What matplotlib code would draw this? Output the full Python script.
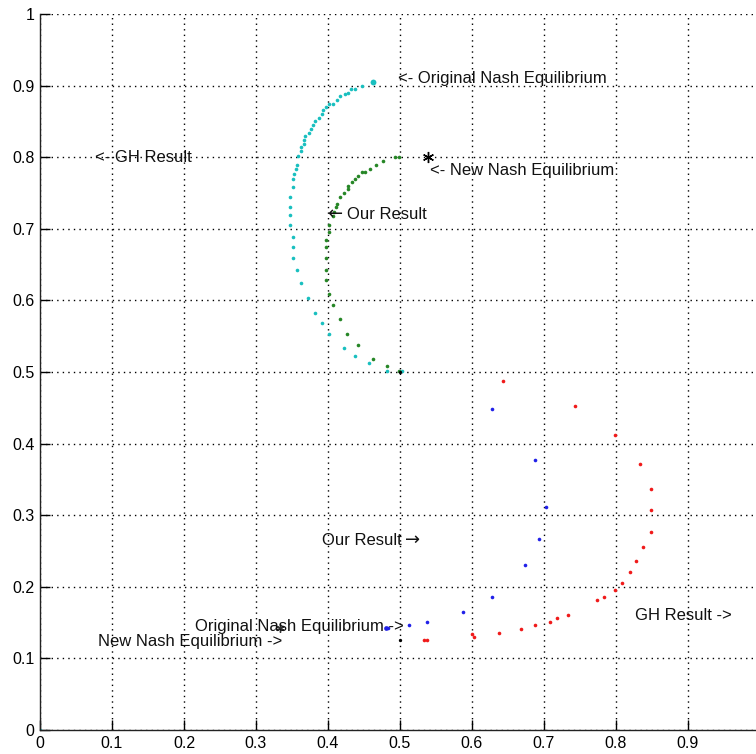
import matplotlib
matplotlib.use("Agg")
import matplotlib.pyplot as plt

plt.rcParams['font.family'] = ['Liberation Sans', 'DejaVu Sans']

# upper curves (GH result in cyan, our result in green)
cyan_x = [0.447, 0.437, 0.432, 0.428, 0.423, 0.417, 0.412, 0.407, 0.402, 0.397,
          0.393, 0.392, 0.387, 0.382, 0.379, 0.376, 0.373, 0.368, 0.367, 0.367,
          0.362, 0.362, 0.359, 0.357, 0.356, 0.353, 0.352, 0.351, 0.347, 0.347,
          0.347, 0.347, 0.352, 0.352, 0.352, 0.357, 0.362, 0.372, 0.382, 0.392,
          0.402, 0.422, 0.437, 0.457, 0.482, 0.503, 0.0]
cyan_y = [0.900, 0.895, 0.895, 0.890, 0.888, 0.885, 0.880, 0.875, 0.874, 0.870,
          0.866, 0.860, 0.855, 0.850, 0.845, 0.840, 0.834, 0.830, 0.824, 0.819,
          0.814, 0.808, 0.802, 0.789, 0.783, 0.777, 0.769, 0.759, 0.745, 0.731,
          0.719, 0.705, 0.689, 0.674, 0.659, 0.643, 0.624, 0.603, 0.583, 0.568,
          0.553, 0.533, 0.523, 0.513, 0.502, 0.502, 0.0]

green_x = [0.498, 0.493, 0.477, 0.467, 0.458, 0.452, 0.447, 0.442, 0.438, 0.433,
           0.428, 0.428, 0.422, 0.417, 0.412, 0.411, 0.408, 0.407, 0.402, 0.402,
           0.397, 0.397, 0.397, 0.397, 0.397, 0.402, 0.407, 0.417, 0.427, 0.442,
           0.462, 0.482, 0.498]
green_y = [0.800, 0.800, 0.794, 0.789, 0.784, 0.780, 0.779, 0.774, 0.769, 0.765,
           0.760, 0.755, 0.750, 0.745, 0.735, 0.730, 0.724, 0.718, 0.705, 0.695,
           0.684, 0.674, 0.659, 0.643, 0.628, 0.609, 0.593, 0.574, 0.553, 0.538,
           0.518, 0.508, 0.501]

# lower curves (GH result in red, our result in blue)
red_x = [0.643, 0.743, 0.798, 0.834, 0.848, 0.848, 0.848, 0.838, 0.828, 0.819,
         0.808, 0.798, 0.783, 0.774, 0.733, 0.718, 0.708, 0.688, 0.668, 0.638,
         0.603, 0.600, 0.537, 0.533]
red_y = [0.488, 0.453, 0.412, 0.372, 0.337, 0.307, 0.277, 0.256, 0.236, 0.221,
         0.206, 0.196, 0.186, 0.181, 0.161, 0.156, 0.151, 0.146, 0.141, 0.136,
         0.130, 0.134, 0.126, 0.126]

blue_x = [0.628, 0.688, 0.703, 0.693, 0.673, 0.628, 0.587, 0.538, 0.512, 0.484]
blue_y = [0.448, 0.377, 0.312, 0.267, 0.231, 0.186, 0.165, 0.151, 0.147, 0.142]

# equilibrium markers
orig_nash_upper = (0.462, 0.905)
new_nash_upper = (0.539, 0.800)
orig_nash_lower = (0.481, 0.142)
new_nash_lower = (0.334, 0.142)
black_dots_x = [0.500, 0.500]
black_dots_y = [0.500, 0.126]

labels = [
    ("<- Original Nash Equilibrium", 0.497, 0.910),
    ("<- GH Result", 0.076, 0.800),
    ("<- New Nash Equilibrium", 0.541, 0.781),
    ("Our Result", 0.427, 0.720),
    ("Our Result", 0.391, 0.265),
    ("Original Nash Equilibrium ->", 0.215, 0.145),
    ("New Nash Equilibrium ->", 0.081, 0.123),
    ("GH Result ->", 0.827, 0.160),
]
# long arrow glyphs next to the "Our Result" labels
arrows = [("\u2190", 0.399, 0.721), ("\u2192", 0.507, 0.266)]

ticks = [0, 0.1, 0.2, 0.3, 0.4, 0.5, 0.6, 0.7, 0.8, 0.9, 1]
ytick_labels = ['0', '0.1', '0.2', '0.3', '0.4', '0.5', '0.6', '0.7', '0.8', '0.9', '1']
xtick_labels = ['0', '0.1', '0.2', '0.3', '0.4', '0.5', '0.6', '0.7', '0.8', '0.9', '']

fig = plt.figure(figsize=(7.56, 7.54), dpi=100)
ax = fig.add_axes([40 / 756, 24 / 754, 720 / 756, 716 / 754])

ms = 2.6
ax.plot(cyan_x, cyan_y, 'o', color='#19BFBF', ms=ms, mew=0)
ax.plot(*orig_nash_upper, 'o', color='#19BFBF', ms=4.2, mew=0)
ax.plot(green_x, green_y, 'o', color='#268626', ms=ms, mew=0)
ax.plot(red_x, red_y, 'o', color='#F01A1A', ms=ms, mew=0)
ax.plot(blue_x, blue_y, 'o', color='#2020E8', ms=ms, mew=0)
ax.plot(*orig_nash_lower, 'o', color='#2020E8', ms=3.4, mew=0)
ax.plot(black_dots_x, black_dots_y, 'o', color='black', ms=2.4, mew=0)
ax.plot(*new_nash_upper, marker=(6, 2, 0), color='black', ms=8, mew=1)
ax.plot(*new_nash_lower, marker=(6, 2, 0), color='#333333', ms=6, mew=1)

for txt, x, y in labels:
    ax.text(x, y, txt, fontsize=12, va='center', ha='left', color='#111111')
for txt, x, y in arrows:
    ax.text(x, y, txt, fontsize=13, va='center', ha='left', color='#111111',
            family='DejaVu Sans')

ax.set_xlim(0, 1)
ax.set_ylim(0, 1)
ax.set_xticks(ticks)
ax.set_xticklabels(xtick_labels)
ax.set_yticks(ticks)
ax.set_yticklabels(ytick_labels)
ax.tick_params(direction='in', length=7, width=1, labelsize=11.5, pad=4)
ax.grid(True, color='black', linestyle=(0, (1, 3)), linewidth=1.0)
for side in ['top', 'right']:
    ax.spines[side].set_visible(False)
for side in ['left', 'bottom']:
    ax.spines[side].set_linewidth(1.0)
    ax.spines[side].set_color('#222222')

fig.savefig('out.png', dpi=100)
